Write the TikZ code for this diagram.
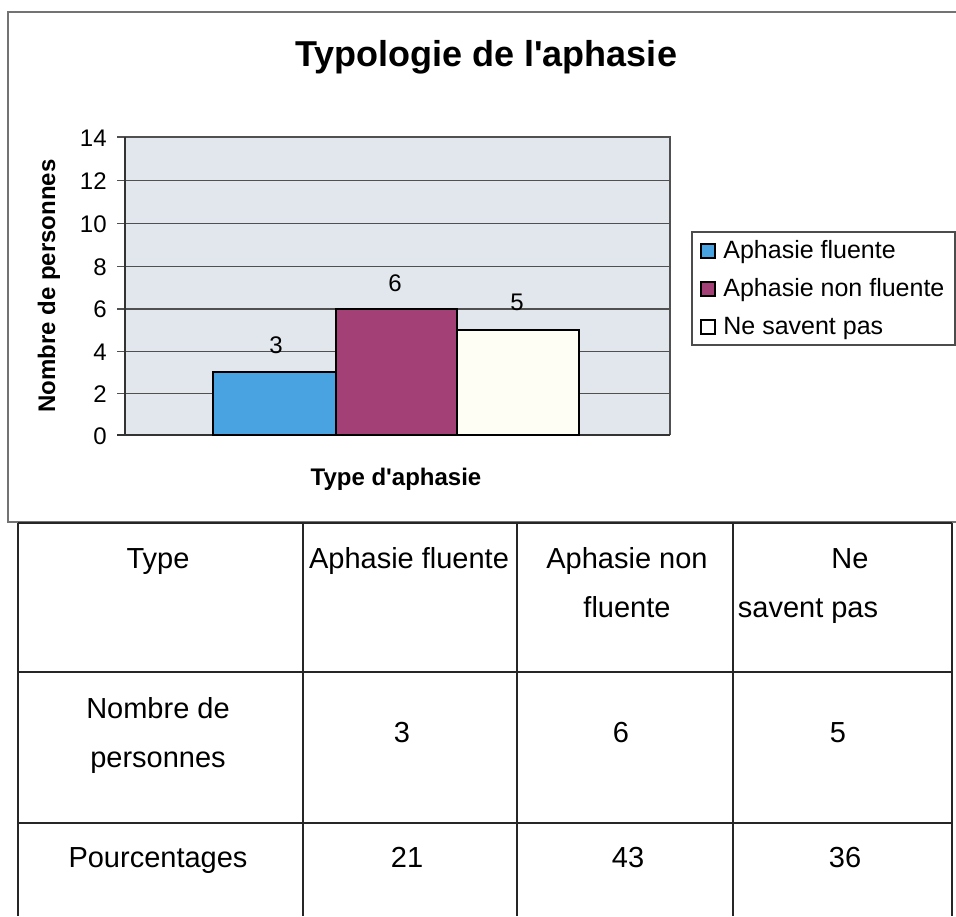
\documentclass[tikz,border=0pt]{standalone}
\usepackage{fontspec}
\setmainfont{Liberation Sans}
\usetikzlibrary{positioning}
\definecolor{plotbg}{RGB}{226,231,237}
\definecolor{fluente}{RGB}{72,163,224}
\definecolor{nonfluente}{RGB}{163,64,118}
\definecolor{nesaventpas}{RGB}{255,254,244}
\definecolor{gridgray}{RGB}{80,80,80}
\definecolor{framegray}{RGB}{115,115,115}
\tikzstyle{barbox} = [draw=black, line width=1.4pt]
\tikzstyle{gridline} = [gridgray, line width=0.7pt]
\tikzstyle{ticklabel} = [font=\fontsize{12}{14}\selectfont, anchor=east, inner sep=0pt]
\tikzstyle{vallabel} = [font=\fontsize{12}{14}\selectfont, inner sep=0pt]
\tikzstyle{legtext} = [font=\fontsize{12.5}{14}\selectfont, anchor=base west, inner sep=0pt]
\tikzstyle{legmark} = [draw=black, line width=1pt]
\tikzstyle{celltext} = [font=\fontsize{14.5}{17}\selectfont, anchor=base, inner sep=0pt]
\tikzstyle{tableline} = [black!85, line width=1pt]

\begin{document}
\begin{tikzpicture}[x=0.5pt, y=-0.5pt]
            \useasboundingbox (0,0) rectangle (956,916);
            % chart frame
            \draw [framegray, line width=1pt] (956,12) -- (8,12) -- (8,522) -- (956,522);
            \node (title) [anchor=base, font=\fontsize{18}{21}\selectfont\bfseries] at (486,66) {Typologie de l\textquotesingle aphasie};
            % plot area
            \fill [plotbg] (125,137) rectangle (670,435);
            \draw [gridline] (117,137) -- (670,137) -- (670,435);
            \draw [gridline] (117,180.5) -- (670,180.5);
            \draw [gridline] (117,223.5) -- (670,223.5);
            \draw [gridline] (117,266.5) -- (670,266.5);
            \draw [gridline] (117,309) -- (670,309);
            \draw [gridline] (117,351.5) -- (670,351.5);
            \draw [gridline] (117,393.5) -- (670,393.5);
            \draw [black!80, line width=1pt] (125,137) -- (125,435);
            \draw [black!80, line width=1pt] (117,435) -- (670,435);
            \node (y14) [ticklabel] at (107,138) {14};
            \node (y12) [ticklabel] at (107,181) {12};
            \node (y10) [ticklabel] at (107,224) {10};
            \node (y8) [ticklabel] at (107,267) {8};
            \node (y6) [ticklabel] at (107,309) {6};
            \node (y4) [ticklabel] at (107,352) {4};
            \node (y2) [ticklabel] at (107,394) {2};
            \node (y0) [ticklabel] at (107,436) {0};
            % bars
            \draw [barbox, fill=fluente] (213,435) rectangle (336,372);
            \draw [barbox, fill=nonfluente] (336,435) rectangle (457,309);
            \draw [barbox, fill=nesaventpas] (457,435) rectangle (579,330);
            \node (v3) [vallabel] at (276,345) {3};
            \node (v6) [vallabel] at (395,283) {6};
            \node (v5) [vallabel] at (517,302) {5};
            % axis titles
            \node (xtitle) [anchor=base, font=\fontsize{12}{14}\selectfont\bfseries] at (396,485) {Type d\textquotesingle aphasie};
            \node (ytitle) [anchor=base, rotate=90, font=\fontsize{12}{14}\selectfont\bfseries] at (55,286) {Nombre de personnes};
            % legend
            \draw [black!70, line width=0.8pt] (692,232) rectangle (955,345);
            \draw [legmark, fill=fluente] (701,244) rectangle (715,258);
            \draw [legmark, fill=nonfluente] (701,282) rectangle (715,296);
            \draw [legmark, fill=white] (701,320) rectangle (715,334);
            \node (legA) [legtext] at (723,258) {Aphasie fluente};
            \node (legB) [legtext] at (723,296) {Aphasie non fluente};
            \node (legC) [legtext] at (723,334) {Ne savent pas};
            % table
            \draw [tableline] (18,523) -- (952,523);
            \draw [tableline] (18,672) -- (952,672);
            \draw [tableline] (18,823) -- (952,823);
            \draw [tableline] (18,523) -- (18,916);
            \draw [tableline] (303,523) -- (303,916);
            \draw [tableline] (517,523) -- (517,916);
            \draw [tableline] (733,523) -- (733,916);
            \draw [tableline] (952,523) -- (952,916);
            \node (hType) [celltext] at (158,568) {Type};
            \node (hFlu) [celltext] at (409,568) {Aphasie fluente};
            \node (hNonA) [celltext] at (627,568) {Aphasie non};
            \node (hNonB) [celltext] at (627,617) {fluente};
            \node (hNeA) [celltext] at (850,568) {Ne};
            \node (hNeB) [celltext] at (808,617) {savent pas};
            \node (rNbA) [celltext] at (158,718) {Nombre de};
            \node (rNbB) [celltext] at (158,767) {personnes};
            \node (nFlu) [celltext] at (402,742) {3};
            \node (nNon) [celltext] at (621,742) {6};
            \node (nNe) [celltext] at (838,742) {5};
            \node (rPct) [celltext] at (158,867) {Pourcentages};
            \node (pFlu) [celltext] at (407,867) {21};
            \node (pNon) [celltext] at (628,867) {43};
            \node (pNe) [celltext] at (845,867) {36};
        \end{tikzpicture}
\end{document}
